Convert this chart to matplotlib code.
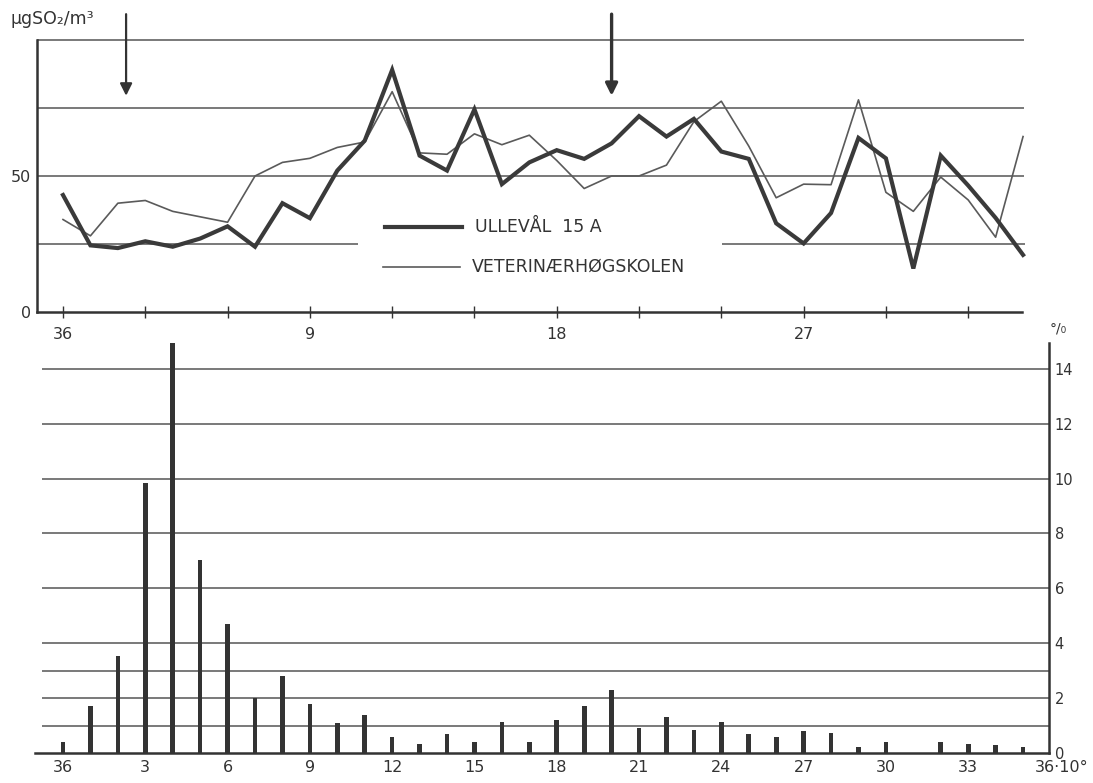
import numpy as np
import matplotlib
matplotlib.use("Agg")
import matplotlib.pyplot as plt
from matplotlib.lines import Line2D

plt.rcParams['font.family'] = 'DejaVu Sans'

INK = "#333333"
GRID = "#555555"

# wind direction sectors (10 degree steps), 36 = north
sector_labels = [36] + list(range(1, 36))
sector_pos = np.arange(len(sector_labels))

# mean SO2 per wind direction, ug/m3
ullevaal = [43, 24.5, 23.5, 26, 24, 27, 31.5, 24, 40, 34.5, 52, 63, 89, 57.5, 52, 74.5,
            47, 55, 59.5, 56.3, 62, 72, 64.5, 71, 59, 56.3, 32.6, 25.2, 36.4, 64, 56.5,
            16, 57.5, 46.5, 34.6, 21]
veterinaer = [34, 28, 40, 41, 37, 35, 33, 50, 55, 56.5, 60.5, 62.5, 81, 58.5, 58, 65.5,
              61.5, 65, 55.7, 45.4, 50, 50, 54, 70, 77.5, 61, 42, 47, 46.8, 78, 44,
              37, 49.6, 41.2, 27.5, 64.5]

# frequency of wind direction, percent
freq_pct = [0.4, 1.7, 3.55, 9.85, 14.95, 7.05, 4.7, 2.0, 2.8, 1.8, 1.1, 1.4, 0.58, 0.33,
            0.7, 0.4, 1.13, 0.4, 1.2, 1.7, 2.3, 0.9, 1.3, 0.84, 1.13, 0.68, 0.6, 0.8,
            0.72, 0.22, 0.4, 0.0, 0.4, 0.33, 0.28, 0.22]

top_ticks = list(range(0, 36, 3))
top_ticklabels = ["36" if t == 0 else (str(t) if t % 9 == 0 else "") for t in top_ticks]
bottom_ticks = list(range(0, 36, 3))
bottom_ticklabels = ["36"] + [str(t) for t in range(3, 36, 3)]
so2_grid = [25, 50, 75, 100]
pct_grid = [1, 2, 3, 4, 6, 8, 10, 12, 14]
pct_ticks = [0, 2, 4, 6, 8, 10, 12, 14]
arrow_sectors = [2.3, 20]

W, H = 1093, 783
PX = 27.43  # pixels per sector
X0 = 63     # pixel of sector 0

def px2x(px):
    return (px - X0) / PX

fig = plt.figure(figsize=(W / 100, H / 100), dpi=100)
fig.patch.set_facecolor("white")

# ---- top: SO2 concentration by wind direction ----
ax1 = fig.add_axes([37 / W, 1 - 312 / H, (1022 - 37) / W, 272 / H])
ax1.set_xlim(px2x(37), px2x(1022))
ax1.set_ylim(0, 100)
for s in ["top", "right"]:
    ax1.spines[s].set_visible(False)
for s in ["left", "bottom"]:
    ax1.spines[s].set_linewidth(1.8)
    ax1.spines[s].set_color(INK)

for g in so2_grid:
    if g == 25:
        # interrupted where the legend sits
        ax1.hlines(g, px2x(37), px2x(358), color=GRID, lw=1.1)
        ax1.hlines(g, px2x(722), px2x(1025), color=GRID, lw=1.1, clip_on=False)
    else:
        ax1.hlines(g, px2x(37), px2x(1024), color=GRID, lw=1.1, clip_on=False)

ax1.plot(sector_pos, veterinaer, color="#5a5a5a", lw=1.2, zorder=3, clip_on=False)
ax1.plot(sector_pos, ullevaal, color="#3a3a3a", lw=3.0, zorder=4,
         solid_joinstyle="miter", clip_on=False)

ax1.set_xticks(top_ticks)
ax1.set_xticklabels(top_ticklabels)
ax1.tick_params(axis="x", direction="inout", length=9, width=1, color=INK,
                labelsize=11.5, labelcolor=INK, pad=6)
ax1.set_yticks([0, 50])
ax1.set_yticklabels(["0", "50"])
ax1.tick_params(axis="y", length=0, labelsize=11.5, labelcolor=INK, pad=4)

# legend drawn by hand
ax1.add_line(Line2D([px2x(385), px2x(462)], [31.3, 31.3], color="#3a3a3a", lw=3.0))
ax1.text(px2x(475), 31.3, "ULLEVÅL  15 A", fontsize=12.5, color=INK, va="center")
ax1.add_line(Line2D([px2x(383), px2x(460)], [16.5, 16.5], color="#5a5a5a", lw=1.2))
ax1.text(px2x(472), 16.5, "VETERINÆRHØGSKOLEN", fontsize=12.5, color=INK, va="center")

for a in arrow_sectors:
    ax1.annotate("", xy=(a, 79.5), xytext=(a, 109.5), xycoords="data",
                 arrowprops=dict(arrowstyle="-|>", color=INK, lw=1.6 if a < 10 else 2.4,
                                 mutation_scale=18, shrinkA=0, shrinkB=0),
                 annotation_clip=False)

fig.text(10 / W, 1 - 19 / H, "μgSO₂/m³", fontsize=12.5, color=INK, va="center", ha="left")

# ---- bottom: frequency of wind direction ----
ax2 = fig.add_axes([35 / W, 1 - 753 / H, (1049 - 35) / W, 410 / H])
ax2.set_xlim(px2x(35), px2x(1049))
ax2.set_ylim(0, 14.94)
for s in ["top", "left"]:
    ax2.spines[s].set_visible(False)
for s in ["right", "bottom"]:
    ax2.spines[s].set_linewidth(1.8)
    ax2.spines[s].set_color(INK)

ax2.hlines(pct_grid, px2x(42), px2x(1049), color=GRID, lw=1.1)
ax2.bar(sector_pos, freq_pct, width=0.17, color="#333333", zorder=3, clip_on=False)

ax2.set_xticks(bottom_ticks)
ax2.set_xticklabels(bottom_ticklabels)
ax2.tick_params(axis="x", length=0, labelsize=11.5, labelcolor=INK, pad=5)
ax2.yaxis.tick_right()
ax2.set_yticks(pct_ticks)
ax2.set_yticklabels([str(t) for t in pct_ticks])
ax2.tick_params(axis="y", length=0, labelsize=10.5, labelcolor=INK, pad=4)

ax2.annotate("36·10°", xy=(px2x(1035), 0), xycoords=("data", "axes fraction"),
             xytext=(0, -5), textcoords="offset points", ha="left", va="top",
             fontsize=11.5, color=INK, annotation_clip=False)
fig.text(1050 / W, 1 - 328 / H, "°/₀", fontsize=10, color=INK, va="center", ha="left")

fig.savefig("out.png", dpi=100, facecolor="white")
